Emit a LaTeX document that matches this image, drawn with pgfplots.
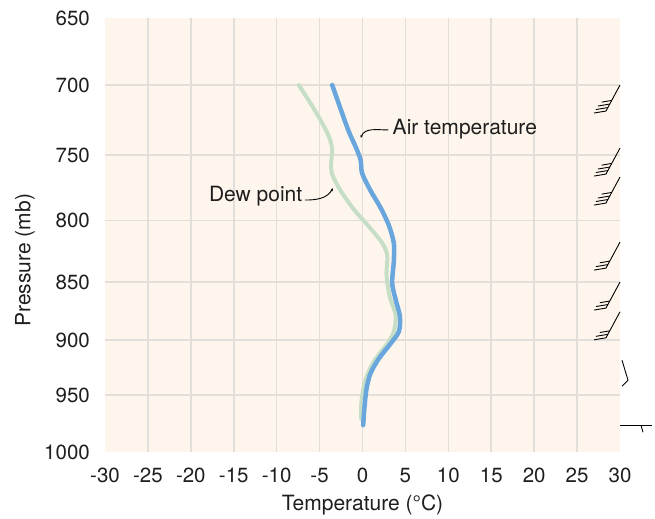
\documentclass[border=0pt]{standalone}
\usepackage{pgfplots}
\pgfplotsset{compat=1.18}
\usepackage{fontspec}
\setmainfont{TeX Gyre Heros}
\usetikzlibrary{arrows.meta}

\definecolor{bg}{HTML}{FEF6EC}
\definecolor{gridc}{HTML}{E2DFDB}
\definecolor{airc}{HTML}{69A6DE}
\definecolor{dewc}{HTML}{C6DEC6}
\definecolor{txt}{HTML}{1E1E1E}

% wind barb with n feathers at the lower end of the staff
\newcommand{\barbfour}[1]{%
  \draw[barb] (axis cs:30,#1) -- ++(-14pt,-26pt) -- ++(-12pt,-2pt);
  \draw[barb] (axis cs:30,#1) ++(-12.1pt,-22.5pt) -- ++(-12pt,-2pt);
  \draw[barb] (axis cs:30,#1) ++(-10.2pt,-19pt) -- ++(-12pt,-2pt);
  \draw[barb] (axis cs:30,#1) ++(-8.3pt,-15.4pt) -- ++(-10pt,-1.7pt);}
\newcommand{\barbthree}[1]{%
  \draw[barb] (axis cs:30,#1) -- ++(-14pt,-26pt) -- ++(-12pt,-2pt);
  \draw[barb] (axis cs:30,#1) ++(-12.1pt,-22.5pt) -- ++(-12pt,-2pt);
  \draw[barb] (axis cs:30,#1) ++(-10.2pt,-19pt) -- ++(-10pt,-1.7pt);}

\begin{document}
\begin{tikzpicture}[barb/.style={black, line width=0.9pt}]
\begin{axis}[
  scale only axis,
  width=515pt, height=434pt,
  xmin=-30, xmax=30,
  ymode=log, y dir=reverse,
  ymin=655.3, ymax=1004.9,
  xtick={-25,-20,...,25},
  xticklabels={-25,-20,-15,-10,-5,0,5,10,15,20,25},
  extra x ticks={-30,30},
  extra x tick labels={-30,30},
  extra x tick style={grid=none},
  ytick={700,750,800,850,900,950},
  yticklabels={700,750,800,850,900,950},
  % the chart prints 650 and 1000 at the top and bottom edges of its panel
  extra y ticks={655.3,1004.9},
  extra y tick labels={650,1000},
  extra y tick style={grid=none},
  grid=major,
  major grid style={draw=gridc, line width=1.6pt},
  axis line style={draw=none},
  major tick style={draw=none},
  axis background/.style={fill=bg},
  tick label style={font=\fontsize{20.5}{24}\selectfont, text=txt},
  xticklabel style={anchor=north, inner sep=0pt, yshift=-16pt},
  yticklabel style={anchor=east, inner sep=0pt, xshift=-15pt},
  label style={font=\fontsize{21}{25}\selectfont, text=txt},
  xlabel={Temperature (°C)},
  ylabel={Pressure (mb)},
  xlabel style={at={(rel axis cs:0.5,0)}, anchor=center, yshift=-53pt},
  ylabel style={at={(rel axis cs:0,0.442)}, anchor=center, yshift=80pt},
  clip=false,
]
\coordinate (sw) at (rel axis cs:0,0);

% dew point
\addplot[dewc, line width=4pt, smooth, tension=0.5, line cap=round, line join=round] coordinates {
  (-7.42,700) (-6.06,712.7) (-4.90,724.5) (-3.92,736.3) (-3.53,745.9)
  (-3.65,755.7) (-3.53,764.4) (-2.56,776.7) (-1.01,791.3) (0.74,804.6)
  (2.30,817.9) (2.88,828.1) (2.80,844.4) (3.19,862.7) (3.85,877.7)
  (3.65,892.3) (2.88,903.1) (1.32,919.1) (0.35,935.7) (-0.12,955.6)
  (-0.15,972.5)
};

% air temperature
\addplot[airc, line width=4.5pt, smooth, tension=0.5, line cap=round, line join=round] coordinates {
  (-3.53,700) (-2.37,719.8) (-1.59,732.9) (-0.82,743.6) (-0.23,753.4)
  (-0.04,763.6) (0.93,776.7) (2.10,789.9) (3.07,803.7) (3.65,817.9)
  (3.65,832.4) (3.46,850.7) (3.85,864.4) (4.35,878.9) (4.24,892.3)
  (3.26,903.1) (1.90,916.5) (0.93,930) (0.47,944) (0.23,961.5)
  (0.08,978.6)
};

% labels
\node[anchor=west, inner sep=0pt, text=txt, font=\fontsize{21}{25}\selectfont]
  at (axis cs:3.5,731) {Air temperature};
\draw[black, line width=0.9pt, -{Stealth[length=3pt,width=2.5pt]}]
  (axis cs:3.0,731.7) to[out=180, in=70] (axis cs:-0.2,737.5);
\node[anchor=east, inner sep=0pt, text=txt, font=\fontsize{21}{25}\selectfont]
  at (axis cs:-7.0,781) {Dew point};
\draw[black, line width=0.9pt, -{Stealth[length=3pt,width=2.5pt]}]
  (axis cs:-6.7,784) to[out=0, in=240] (axis cs:-3.45,775);

% wind barbs
\barbfour{700}
\barbfour{744.8}
\barbfour{766.4}
\barbthree{817.1}
\barbthree{849.9}
\barbthree{875.2}
\draw[barb] (axis cs:30,917.9) ++(2pt,0pt) -- ++(6pt,-20pt) -- ++(-6pt,-6pt);
\draw[barb] (axis cs:30,978.6) -- ++(32pt,0pt);
\draw[barb] (axis cs:30,978.6) ++(21pt,0pt) -- ++(2pt,-7pt);
\end{axis}
\path (sw) ++(-105pt,-65pt) rectangle ++(655pt,517pt);
\end{tikzpicture}
\end{document}
